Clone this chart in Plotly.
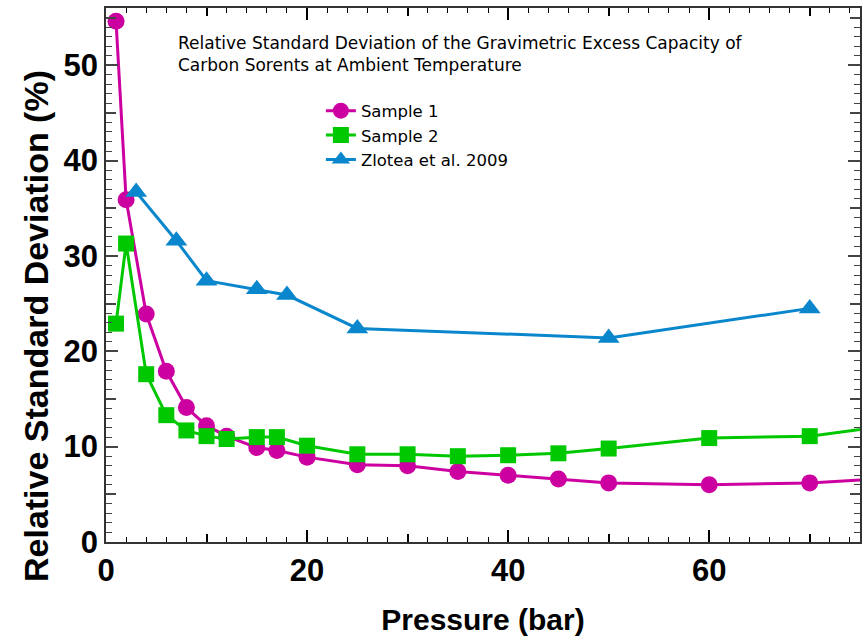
import plotly.graph_objects as go

# Data
s1_x = [1, 2, 4, 6, 8, 10, 12, 15, 17, 20, 25, 30, 35, 40, 45, 50, 60, 70, 80]
s1_y = [54.6, 35.9, 23.9, 17.9, 14.1, 12.2, 11.1, 9.9, 9.6, 8.9, 8.1, 8.0, 7.4, 7.0, 6.6, 6.2, 6.0, 6.2, 6.8]

s2_x = [1, 2, 4, 6, 8, 10, 12, 15, 17, 20, 25, 30, 35, 40, 45, 50, 60, 70, 80]
s2_y = [22.9, 31.3, 17.6, 13.3, 11.7, 11.1, 10.8, 11.0, 11.0, 10.1, 9.2, 9.2, 9.0, 9.1, 9.3, 9.8, 10.9, 11.1, 12.5]

z_x = [3, 7, 10, 15, 18, 25, 50, 70]
z_y = [36.7, 31.6, 27.4, 26.5, 25.9, 22.4, 21.4, 24.5]

names = ["Sample 1", "Sample 2", "Zlotea et al. 2009"]
colors = ["#CC00A0", "#00C800", "#0A87CC"]

title_lines = ["Relative Standard Deviation of the Gravimetric Excess Capacity of",
               "Carbon Sorents at Ambient Temperature"]
x_title = "Pressure (bar)"
y_title = "Relative Standard Deviation (%)"

narrow_font = "Liberation Sans Narrow, Arial Narrow, Liberation Sans, Arial, sans-serif"
bold_font = "Liberation Sans, Arial, Helvetica, sans-serif"
reg_font = "DejaVu Sans, Verdana, sans-serif"

fig = go.Figure()
fig.add_trace(go.Scatter(x=s1_x, y=s1_y, name=names[0], mode="lines+markers",
                         line=dict(color=colors[0], width=3),
                         marker=dict(symbol="circle", size=17, color=colors[0])))
fig.add_trace(go.Scatter(x=s2_x, y=s2_y, name=names[1], mode="lines+markers",
                         line=dict(color=colors[1], width=3),
                         marker=dict(symbol="square", size=16, color=colors[1])))
fig.add_trace(go.Scatter(x=z_x, y=z_y, name=names[2], mode="lines+markers",
                         line=dict(color=colors[2], width=3),
                         marker=dict(symbol="triangle-up", size=19, color=colors[2])))
# invisible trace to host the overlay axes (medium ticks)
fig.add_trace(go.Scatter(x=[], y=[], xaxis="x2", yaxis="y2", showlegend=False, hoverinfo="skip"))

XR = [0, 75]
YR = [0, 56]

fig.update_layout(
    width=868, height=637,
    margin=dict(l=106, r=6, t=6, b=90),
    paper_bgcolor="white", plot_bgcolor="white",
    showlegend=True,
    legend=dict(x=0.285, y=0.84, xanchor="left", yanchor="top",
                font=dict(family=reg_font, size=16.5, color="black"),
                bgcolor="rgba(0,0,0,0)", tracegroupgap=0, itemwidth=30),
    xaxis=dict(range=XR, dtick=20, tick0=0, ticks="inside", ticklen=12, tickwidth=1.5,
               tickcolor="black", showline=True, linecolor="#333", linewidth=1.5,
               mirror="ticks", showgrid=False, zeroline=False,
               minor=dict(dtick=2, ticklen=5, ticks="inside", tickcolor="black", tickwidth=1.2, showgrid=False),
               tickfont=dict(family=narrow_font, size=31, color="black", weight="bold"),
               title=dict(text="<b>" + x_title + "</b>", font=dict(family=bold_font, size=30, color="black"), standoff=22)),
    yaxis=dict(range=YR, dtick=10, tick0=0, ticks="inside", ticklen=12, tickwidth=1.5,
               tickcolor="#444", showline=True, linecolor="#333", linewidth=1.5,
               mirror="ticks", showgrid=False, zeroline=False,
               minor=dict(dtick=1, ticklen=6, ticks="inside", tickcolor="#444", tickwidth=1.2, showgrid=False),
               tickfont=dict(family=narrow_font, size=31, color="black", weight="bold")),
    xaxis2=dict(overlaying="x", anchor="y", range=XR, dtick=10, tick0=0, ticks="inside", ticklen=8,
                tickwidth=1.5, tickcolor="black", showticklabels=False, showline=True,
                linecolor="#333", linewidth=1.5, mirror="ticks", showgrid=False, zeroline=False, side="bottom"),
    yaxis2=dict(overlaying="y", anchor="x", range=YR, dtick=5, tick0=0, ticks="inside", ticklen=10,
                tickwidth=1.5, tickcolor="#444", showticklabels=False, showline=True,
                linecolor="#333", linewidth=1.5, mirror="ticks", showgrid=False, zeroline=False, side="left"),
)

# y-axis title (placed below centre, as in the original)
fig.add_annotation(text="<b>" + y_title + "</b>", xref="paper", yref="paper",
                   x=(36 - 106) / 756, y=(547 - 328) / 541, xanchor="center", yanchor="middle",
                   textangle=-90, showarrow=False,
                   font=dict(family=bold_font, size=34, color="black"))

fig.add_annotation(text="<br>".join(title_lines), xref="paper", yref="paper",
                   x=(176 - 106) / 756, y=(637 - 90 - 29) / 541, xanchor="left", yanchor="top",
                   align="left", showarrow=False,
                   font=dict(family=reg_font, size=17, color="black"))

fig.write_html("out.html")
